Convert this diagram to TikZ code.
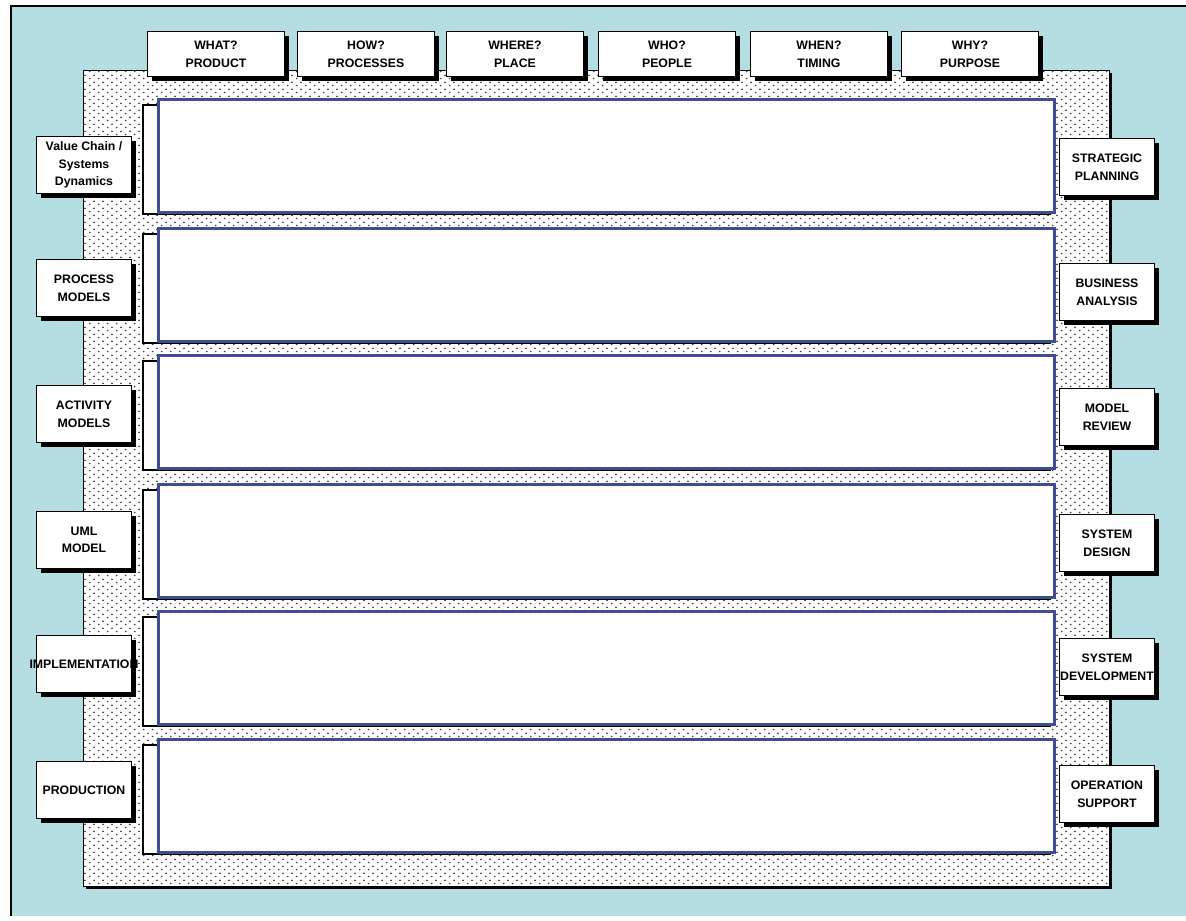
\documentclass[tikz,border=0pt]{standalone}
\usepackage{fontspec}
\setmainfont{Liberation Sans}
\usetikzlibrary{patterns,shadows}

\definecolor{seablue}{HTML}{B5DEE2}
\definecolor{rownavy}{HTML}{3F4E8C}

% sparse stipple for the field
\pgfdeclarepatternformonly{stipple}{\pgfpointorigin}{\pgfqpoint{5pt}{4pt}}{\pgfqpoint{5pt}{4pt}}{
  \pgfpathcircle{\pgfqpoint{1pt}{1pt}}{0.55pt}
  \pgfpathcircle{\pgfqpoint{3.5pt}{3pt}}{0.55pt}
  \pgfusepath{fill}
}

\tikzset{
  tag/.style={draw, thick, fill=white, align=center, inner sep=1pt,
    font=\fontsize{7}{10}\selectfont\bfseries,
    general shadow={fill=black, shadow xshift=2.5pt, shadow yshift=-2.5pt}},
  toptag/.style={tag, minimum width=2.75cm, minimum height=0.9cm},
  sidetag/.style={tag, minimum width=1.9cm, minimum height=1.15cm},
  rowback/.style={draw, thick, fill=white},
  rowbox/.style={draw=rownavy, line width=1.6pt, fill=white}
}
\newcommand{\wide}[1]{\makebox[1.6cm][c]{#1}}

\begin{document}
\begin{tikzpicture}[x=0.02cm, y=-0.02cm]
  \useasboundingbox (0,0) rectangle (1186,920);

  % background and frame
  \fill[seablue] (11,6) rectangle (1186,916);
  \draw[very thick] (11,916) -- (11,6) -- (1186,6);

  % stippled field
  \fill[black] (86,73) rectangle (1112,889);
  \fill[white] (83,70) rectangle (1109,886);
  \draw[pattern=stipple, pattern color=black!75] (83,70) rectangle (1109,886);

  % rows
  \foreach \t/\name in {98/rowA, 227/rowB, 354/rowC, 483/rowD, 610/rowE, 738/rowF} {
    \draw[rowback] (143,\t+7) rectangle (1050,\t+116);
    \node[rowbox, minimum width=17.92cm, minimum height=2.26cm, anchor=north west]
      (\name) at (157,\t) {};
  }

  % top labels
  \node[toptag] (what)  at (216,54) {WHAT?\\PRODUCT};
  \node[toptag] (how)   at (366,54) {HOW?\\PROCESSES};
  \node[toptag] (where) at (515,54) {WHERE?\\PLACE};
  \node[toptag] (who)   at (667,54) {WHO?\\PEOPLE};
  \node[toptag] (when)  at (819,54) {WHEN?\\TIMING};
  \node[toptag] (why)   at (970,54) {WHY?\\PURPOSE};

  % left labels
  \node[sidetag] (chain)    at (84,165) {Value Chain /\\Systems\\Dynamics};
  \node[sidetag] (process)  at (84,288) {PROCESS\\MODELS};
  \node[sidetag] (activity) at (84,414) {ACTIVITY\\MODELS};
  \node[sidetag] (uml)      at (84,540) {UML\\MODEL};
  \node[sidetag] (impl)     at (84,664) {\wide{IMPLEMENTATION}};
  \node[sidetag] (prod)     at (84,790) {PRODUCTION};

  % right labels
  \node[sidetag] (strat)   at (1107,167) {STRATEGIC\\PLANNING};
  \node[sidetag] (busi)    at (1107,292) {BUSINESS\\ANALYSIS};
  \node[sidetag] (model)   at (1107,417) {MODEL\\REVIEW};
  \node[sidetag] (design)  at (1107,543) {SYSTEM\\DESIGN};
  \node[sidetag] (develop) at (1107,667) {SYSTEM\\\wide{DEVELOPMENT}};
  \node[sidetag] (operate) at (1107,794) {OPERATION\\SUPPORT};
\end{tikzpicture}
\end{document}
